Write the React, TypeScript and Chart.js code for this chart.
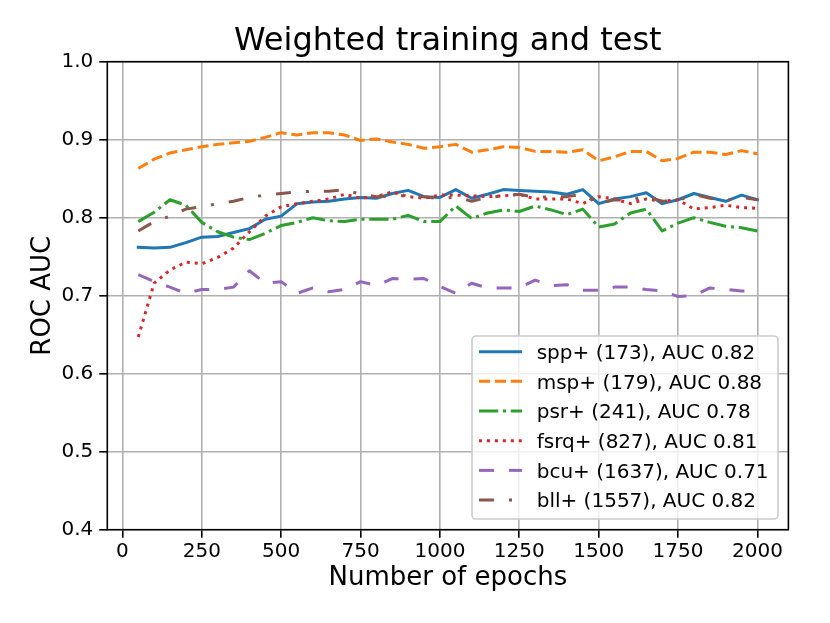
import { useEffect, useRef } from "react";
import { Chart, registerables } from "chart.js";

Chart.register(...registerables);

const epochs = [
  50, 100, 150, 200, 250, 300, 350, 400, 450, 500,
  550, 600, 650, 700, 750, 800, 850, 900, 950, 1000,
  1050, 1100, 1150, 1200, 1250, 1300, 1350, 1400, 1450, 1500,
  1550, 1600, 1650, 1700, 1750, 1800, 1850, 1900, 1950, 2000,
];

const sppValues = [
  0.762, 0.761, 0.762, 0.768, 0.775, 0.776, 0.781, 0.786, 0.798, 0.802,
  0.818, 0.82, 0.821, 0.824, 0.826, 0.825, 0.831, 0.835, 0.827, 0.826,
  0.836, 0.825, 0.83, 0.836, 0.835, 0.834, 0.833, 0.83, 0.836, 0.818,
  0.824, 0.827, 0.832, 0.818, 0.823, 0.831, 0.826, 0.821, 0.829, 0.823,
];
const mspValues = [
  0.863, 0.875, 0.883, 0.887, 0.891, 0.894, 0.896, 0.898, 0.903, 0.909,
  0.906, 0.909, 0.909, 0.906, 0.899, 0.901, 0.897, 0.894, 0.889, 0.891,
  0.894, 0.884, 0.887, 0.891, 0.89, 0.885, 0.885, 0.884, 0.887, 0.873,
  0.878, 0.885, 0.885, 0.873, 0.876, 0.884, 0.884, 0.881, 0.886, 0.882,
];
const psrValues = [
  0.795, 0.807, 0.823, 0.816, 0.794, 0.782, 0.775, 0.772, 0.78, 0.79,
  0.794, 0.8, 0.796, 0.795, 0.798, 0.798, 0.798, 0.803, 0.795, 0.795,
  0.815, 0.799, 0.806, 0.81, 0.808, 0.815, 0.81, 0.804, 0.811, 0.788,
  0.792, 0.806, 0.811, 0.783, 0.793, 0.8, 0.794, 0.789, 0.787, 0.783,
];
const fsrqValues = [
  0.647, 0.716, 0.733, 0.743, 0.741, 0.749, 0.761, 0.782, 0.802, 0.814,
  0.818, 0.821, 0.824, 0.83, 0.825, 0.827, 0.833, 0.827, 0.825, 0.829,
  0.829, 0.828, 0.827, 0.828, 0.83, 0.824, 0.824, 0.824, 0.818, 0.827,
  0.824, 0.818, 0.824, 0.821, 0.823, 0.811, 0.813, 0.816, 0.813, 0.812,
];
const bcuValues = [
  0.727, 0.718, 0.711, 0.703, 0.708, 0.708, 0.711, 0.732, 0.716, 0.718,
  0.703, 0.71, 0.705, 0.708, 0.718, 0.713, 0.722, 0.721, 0.722, 0.712,
  0.703, 0.716, 0.71, 0.71, 0.71, 0.72, 0.713, 0.714, 0.707, 0.707,
  0.711, 0.711, 0.708, 0.706, 0.699, 0.7, 0.71, 0.708, 0.706, 0.707,
];
const bllValues = [
  0.783, 0.795, 0.802, 0.811, 0.814, 0.818, 0.821, 0.826, 0.829, 0.831,
  0.833, 0.834, 0.834, 0.836, 0.83, 0.827, 0.828, 0.828, 0.827, 0.824,
  0.827, 0.821, 0.826, 0.828, 0.83, 0.826, 0.827, 0.827, 0.83, 0.818,
  0.823, 0.822, 0.828, 0.821, 0.822, 0.83, 0.825, 0.822, 0.826, 0.823,
];

const seriesLabels = [
  "spp+ (173), AUC 0.82",
  "msp+ (179), AUC 0.88",
  "psr+ (241), AUC 0.78",
  "fsrq+ (827), AUC 0.81",
  "bcu+ (1637), AUC 0.71",
  "bll+ (1557), AUC 0.82",
];

const xTickValues = [0, 250, 500, 750, 1000, 1250, 1500, 1750, 2000];
const yTickValues = [0.4, 0.5, 0.6, 0.7, 0.8, 0.9, 1.0];

const chartTitle = "Weighted training and test";
const xAxisTitle = "Number of epochs";
const yAxisTitle = "ROC AUC";

const FONT = "'DejaVu Sans', sans-serif";
const LW = 3;
const THIN = 1.6;

const seriesStyles = [
  { color: "#1f77b4", dash: [] as number[], cap: "square" },
  { color: "#ff7f0e", dash: [11.1, 4.8], cap: "butt" },
  { color: "#2ca02c", dash: [19.2, 4.8, 3, 4.8], cap: "butt" },
  { color: "#d62728", dash: [3, 4.95], cap: "butt" },
  { color: "#9467bd", dash: [15, 15], cap: "butt" },
  { color: "#8c564b", dash: [15, 15, 3, 15], cap: "butt" },
];

const frameAndLegend = {
  id: "frameAndLegend",
  afterDatasetsDraw(chart: any) {
    const { ctx, chartArea } = chart;
    ctx.save();
    ctx.strokeStyle = "#000";
    ctx.lineWidth = THIN;
    ctx.strokeRect(chartArea.left, chartArea.top, chartArea.right - chartArea.left, chartArea.bottom - chartArea.top);
    ctx.restore();
  },
  afterDraw(chart: any) {
    const { ctx, chartArea } = chart;
    const bw = 306;
    const bh = 183;
    const bx = chartArea.right - 10.4 - bw;
    const by = chartArea.bottom - 10.7 - bh;
    ctx.save();
    ctx.beginPath();
    const r = 4;
    ctx.moveTo(bx + r, by);
    ctx.lineTo(bx + bw - r, by);
    ctx.arcTo(bx + bw, by, bx + bw, by + r, r);
    ctx.lineTo(bx + bw, by + bh - r);
    ctx.arcTo(bx + bw, by + bh, bx + bw - r, by + bh, r);
    ctx.lineTo(bx + r, by + bh);
    ctx.arcTo(bx, by + bh, bx, by + bh - r, r);
    ctx.lineTo(bx, by + r);
    ctx.arcTo(bx, by, bx + r, by, r);
    ctx.closePath();
    ctx.fillStyle = "rgba(255,255,255,0.8)";
    ctx.fill();
    ctx.strokeStyle = "#cccccc";
    ctx.lineWidth = THIN;
    ctx.stroke();

    chart.data.datasets.forEach((ds: any, i: number) => {
      const y = by + 15.7 + i * 29.67;
      ctx.beginPath();
      ctx.setLineDash(ds.borderDash || []);
      ctx.lineDashOffset = 0;
      ctx.lineCap = ds.borderCapStyle === "square" ? "butt" : ds.borderCapStyle;
      ctx.strokeStyle = ds.borderColor;
      ctx.lineWidth = LW;
      ctx.moveTo(bx + 7, y);
      ctx.lineTo(bx + 50, y);
      ctx.stroke();
      ctx.setLineDash([]);
      ctx.fillStyle = "#000";
      ctx.font = `20px ${FONT}`;
      ctx.textBaseline = "alphabetic";
      ctx.textAlign = "left";
      ctx.fillText(ds.label, bx + 64.7, y + 7.3);
    });
    ctx.restore();
  },
};

export default function App() {
  const ref = useRef<HTMLCanvasElement>(null);

  useEffect(() => {
    document.body.style.margin = "0";
    const canvas = ref.current;
    if (!canvas) return;
    const seriesValues = [sppValues, mspValues, psrValues, fsrqValues, bcuValues, bllValues];
    const datasets = seriesValues.map((vals, i) => ({
      label: seriesLabels[i],
      data: epochs.map((e, j) => ({ x: e, y: vals[j] })),
      borderColor: seriesStyles[i].color,
      backgroundColor: seriesStyles[i].color,
      borderDash: seriesStyles[i].dash,
      borderCapStyle: seriesStyles[i].cap,
      borderJoinStyle: "round",
      borderWidth: LW,
      pointRadius: 0,
      pointHoverRadius: 0,
      tension: 0,
      fill: false,
      order: seriesValues.length - i,
    }));

    const chart = new Chart(canvas, {
      type: "line",
      data: { datasets } as any,
      plugins: [frameAndLegend],
      options: {
        animation: false,
        responsive: false,
        devicePixelRatio: 1,
        events: [],
        layout: { padding: { left: 0, right: 41.6, top: 0, bottom: 0 } },
        plugins: {
          legend: { display: false },
          tooltip: { enabled: false },
          title: {
            display: true,
            text: chartTitle,
            fullSize: false,
            color: "#000",
            font: { family: FONT, size: 32, weight: "normal", lineHeight: 1.2 },
            padding: { top: 22.9, bottom: 0.4 },
          },
        },
        scales: {
          x: {
            type: "linear",
            min: -47.5,
            max: 2097.5,
            afterBuildTicks: (scale: any) => {
              scale.ticks = xTickValues.map((v) => ({ value: v }));
            },
            afterFit: (scale: any) => {
              scale.height = 93.3;
            },
            border: { display: false },
            grid: {
              color: "#b0b0b0",
              lineWidth: THIN,
              drawTicks: true,
              tickLength: 8,
              tickColor: "#000",
              tickWidth: THIN,
            },
            ticks: {
              color: "#000",
              font: { family: FONT, size: 20 },
              padding: 1.7,
              maxRotation: 0,
              autoSkip: false,
              callback: (v: any) => String(v),
            },
            title: {
              display: true,
              text: xAxisTitle,
              color: "#000",
              font: { family: FONT, size: 26, lineHeight: 1.2 },
              padding: { top: 0, bottom: 29.1 },
            },
          },
          y: {
            type: "linear",
            min: 0.4,
            max: 1.0,
            afterBuildTicks: (scale: any) => {
              scale.ticks = yTickValues.map((v) => ({ value: v }));
            },
            afterFit: (scale: any) => {
              scale.width = 107.3;
            },
            border: { display: false },
            grid: {
              color: "#b0b0b0",
              lineWidth: THIN,
              drawTicks: true,
              tickLength: 8,
              tickColor: "#000",
              tickWidth: THIN,
            },
            ticks: {
              color: "#000",
              font: { family: FONT, size: 20 },
              padding: 6,
              autoSkip: false,
              callback: (v: any) => Number(v).toFixed(1),
            },
            title: {
              display: true,
              text: yAxisTitle,
              color: "#000",
              font: { family: FONT, size: 26, lineHeight: 1.2 },
              padding: { top: 27.4, bottom: 0 },
            },
          },
        },
      } as any,
    });
    return () => chart.destroy();
  }, []);

  return (
    <div style={{ position: "absolute", left: 0, top: 0, width: 830, height: 623, background: "#fff" }}>
      <canvas ref={ref} width={830} height={623} style={{ display: "block", width: 830, height: 623 }} />
    </div>
  );
}
